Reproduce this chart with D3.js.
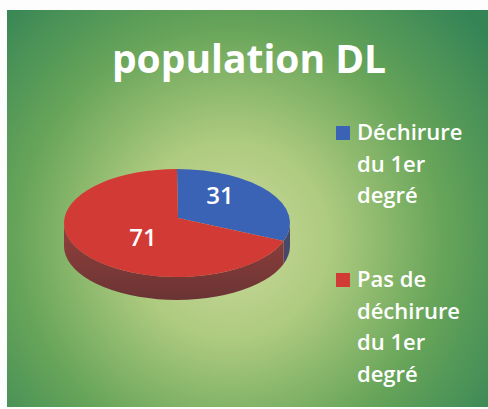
<!DOCTYPE html>
<html>
<head>
<meta charset="utf-8">
<script src="https://cdn.jsdelivr.net/npm/d3@7"></script>
<style>
  html, body { margin: 0; padding: 0; background: #fdfdfd; }
  svg { display: block; }
</style>
</head>
<body>
<div id="chart"></div>
<script>
/*
** Data
*/
var title = "population DL";
var categories = ["Déchirure du 1er degré", "Pas de déchirure du 1er degré"];
var values = [31, 71];
var legendLines = [
    ["Déchirure", "du 1er", "degré"],
    ["Pas de", "déchirure", "du 1er", "degré"]
];
var topColors = ["#3a63b6", "#d23a36"];
var sideColors = ["#4a4868", "#8a3434"];

/*
** Layout
*/
var width = 488
  , height = 409
  , cx = 177      // ellipse centre
  , cy = 223
  , vx = 178      // apparent pie vertex (perspective)
  , vy = 218
  , rx = 113
  , ry = 54
  , depth = 23
;

var svg = d3.select("#chart").append("svg")
    .attr("width", width)
    .attr("height", height)
;

var defs = svg.append("defs");
var bg = defs.append("radialGradient")
    .attr("id", "bg")
    .attr("gradientUnits", "userSpaceOnUse")
    .attr("cx", 230)
    .attr("cy", 240)
    .attr("r", 330)
;
[["0", "#cbd99c"], ["0.3", "#aecb7f"], ["0.65", "#66a459"], ["1", "#348456"]].forEach(function(s) {
    bg.append("stop").attr("offset", s[0]).attr("stop-color", s[1]);
});

var side = defs.append("linearGradient")
    .attr("id", "side")
    .attr("x1", 0).attr("y1", 0).attr("x2", 0).attr("y2", 1)
;
side.append("stop").attr("offset", "0").attr("stop-color", "#94403c");
side.append("stop").attr("offset", "1").attr("stop-color", "#6a3434");

svg.append("rect")
    .attr("x", 7)
    .attr("y", 10)
    .attr("width", width - 7)
    .attr("height", 397)
    .attr("fill", "url(#bg)")
;

svg.append("text")
    .attr("x", 249)
    .attr("y", 73)
    .attr("text-anchor", "middle")
    .attr("fill", "#ffffff")
    .style("font-family", "'Open Sans', sans-serif")
    .style("font-weight", "bold")
    .style("font-size", "39px")
    .text(title)
;

/*
** 3D pie
*/
var pie = d3.pie().sort(null);
var arcs = pie(values);

function pt(a, dy) {
    return [cx + rx * Math.sin(a), cy - ry * Math.cos(a) + (dy || 0)];
}

// outer side walls, only the front half (angles between PI/2 and 3PI/2)
var sides = svg.append("g");
arcs.forEach(function(d, i) {
    var s = Math.max(d.startAngle, Math.PI / 2)
      , e = Math.min(d.endAngle, 3 * Math.PI / 2)
    ;
    if (e <= s) return;
    var p0 = pt(s), p1 = pt(e), p2 = pt(e, depth), p3 = pt(s, depth);
    var large = (e - s) > Math.PI ? 1 : 0;
    sides.append("path")
        .attr("d", "M" + p0 + "A" + rx + "," + ry + " 0 " + large + " 1 " + p1 +
                   "L" + p2 + "A" + rx + "," + ry + " 0 " + large + " 0 " + p3 + "Z")
        .attr("fill", i === 1 ? "url(#side)" : sideColors[i])
    ;
});

// top faces
svg.append("g").selectAll("path")
    .data(arcs)
  .enter().append("path")
    .attr("d", function(d) {
        var p0 = pt(d.startAngle), p1 = pt(d.endAngle);
        var large = (d.endAngle - d.startAngle) > Math.PI ? 1 : 0;
        return "M" + vx + "," + vy + "L" + p0 +
               "A" + rx + "," + ry + " 0 " + large + " 1 " + p1 + "Z";
      })
    .attr("fill", function(d, i) { return topColors[i]; })
;

// data labels
var labelPos = [[220, 204], [143, 246]];
svg.append("g").selectAll("text")
    .data(arcs)
  .enter().append("text")
    .attr("x", function(d, i) { return labelPos[i][0]; })
    .attr("y", function(d, i) { return labelPos[i][1]; })
    .attr("text-anchor", "middle")
    .attr("fill", "#ffffff")
    .style("font-family", "'Open Sans', sans-serif")
    .style("font-weight", "600")
    .style("font-size", "24px")
    .text(function(d) { return d.data; })
;

/*
** Legend
*/
var legendTop = [140, 287];
var lineGap = 31.5;
var legend = svg.append("g").selectAll("g")
    .data(categories)
  .enter().append("g")
;
legend.append("rect")
    .attr("x", 336)
    .attr("y", function(c, i) { return legendTop[i] - 14; })
    .attr("width", 14)
    .attr("height", 14)
    .attr("fill", function(c, i) { return topColors[i]; })
;
legend.append("text")
    .attr("fill", "#ffffff")
    .style("font-family", "'Open Sans', sans-serif")
    .style("font-weight", "600")
    .style("font-size", "22px")
    .each(function(c, i) {
        var self = d3.select(this);
        legendLines[i].forEach(function(line, j) {
            self.append("tspan")
                .attr("x", 357)
                .attr("y", legendTop[i] + j * lineGap)
                .text(line)
            ;
        });
      })
;
</script>
</body>
</html>
